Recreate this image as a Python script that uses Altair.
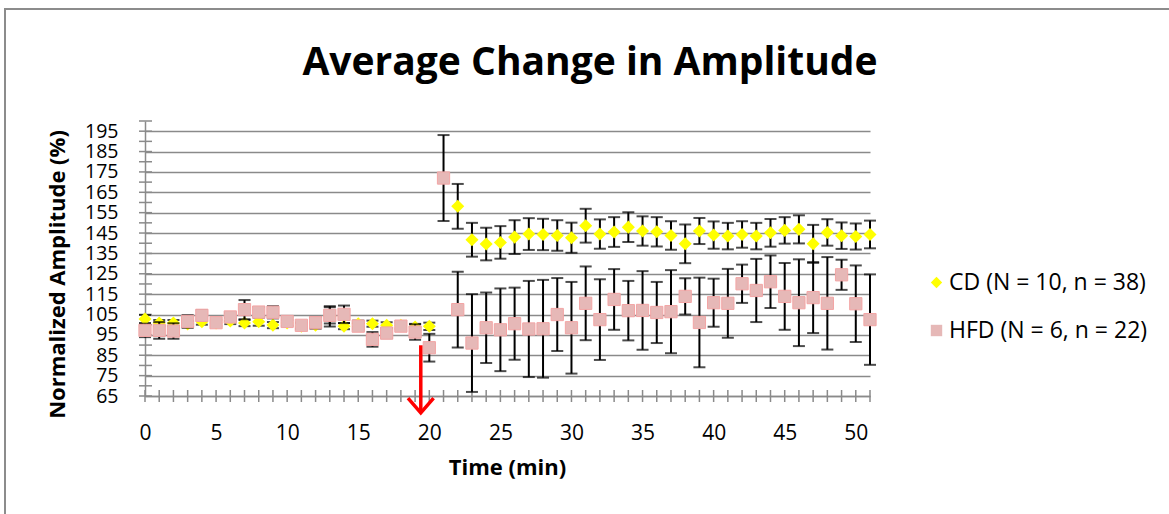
import altair as alt
import pandas as pd

# ---------------- data ----------------
time_min = list(range(52))

cd_label = "CD (N = 10, n = 38)"
hfd_label = "HFD (N = 6, n = 22)"

cd_mean = [102.8, 100.8, 100.8, 100.3, 101.5, 100.8, 101.8, 100.8, 101.5, 99.8,
           100.8, 99.2, 99.7, 104.1, 99.3, 100.5, 100.5, 99.7, 99.7, 98.9,
           99.2, None, 158.1, 141.7, 139.6, 140.4, 143.0, 144.5, 144.3, 143.8,
           142.7, 148.6, 144.5, 145.5, 147.9, 146.0, 145.6, 143.8, 139.7, 146.0,
           144.0, 143.5, 144.3, 143.5, 145.1, 146.3, 146.8, 139.7, 145.3, 143.7,
           143.3, 144.3]
cd_err = [2.0, 1.5, 1.5, 1.5, 1.5, 1.5, 1.5, 1.5, 2.0, 1.5,
          1.5, 1.5, 1.5, 5.0, 1.5, 1.5, 1.5, 1.5, 1.5, 1.5,
          1.8, None, 11.0, 8.3, 8.0, 8.0, 8.3, 7.8, 7.7, 7.5,
          7.4, 8.3, 7.2, 7.3, 7.3, 7.2, 7.2, 7.0, 9.5, 6.4,
          6.7, 6.5, 6.5, 6.5, 6.8, 6.5, 6.9, 9.3, 6.5, 6.5,
          6.4, 6.8]

hfd_mean = [97.2, 97.2, 96.9, 101.6, 104.6, 101.0, 103.8, 107.4, 106.2, 106.1,
            101.6, 99.7, 101.0, 104.6, 105.1, 99.3, 92.8, 95.9, 99.3, 96.4,
            88.7, 172.0, 107.4, 91.0, 98.5, 97.5, 100.5, 97.9, 98.0, 105.0,
            98.5, 110.5, 102.5, 112.4, 106.9, 107.0, 106.0, 106.4, 113.9, 101.1,
            110.8, 110.5, 120.1, 116.8, 121.1, 113.9, 110.8, 113.3, 110.5, 124.5,
            110.3, 102.5]
hfd_err = [3.3, 4.1, 3.8, 3.1, 2.5, 1.5, 2.0, 4.7, 2.5, 3.0,
           2.0, 1.5, 2.8, 4.0, 4.3, 1.5, 3.6, 2.5, 1.5, 3.8,
           6.8, 21.1, 18.6, 24.0, 17.3, 20.3, 17.7, 23.6, 24.0, 17.9,
           22.5, 18.1, 19.8, 14.9, 14.6, 19.3, 15.0, 20.4, 8.9, 22.0,
           11.8, 16.9, 9.4, 15.5, 12.9, 16.4, 21.3, 17.4, 22.7, 7.4,
           18.8, 22.2]

y_label_values = list(range(65, 200, 10))
y_tick_values = list(range(65, 201, 5))
x_label_values = list(range(0, 51, 5))
x_tick_values = list(range(0, 52))

# red arrow annotation (data units)
arrow_shaft_x = [19.4]
arrow_shaft_top = [89.9]
arrow_shaft_bottom = [57.5]
arrow_head_x = [18.5, 19.4, 20.3]
arrow_head_y = [64.0, 56.7, 64.0]

title_text = "Average Change in Amplitude"
x_title = "Time (min)"
y_title = "Normalized Amplitude (%)"

# ---------------- tables ----------------
def series_df(label, means, errs):
    rows = []
    for t, m, e in zip(time_min, means, errs):
        if m is None:
            continue
        rows.append({"series": label, "time": t, "mean": m, "lo": m - e, "hi": m + e})
    return pd.DataFrame(rows)

cd_df = series_df(cd_label, cd_mean, cd_err)
hfd_df = series_df(hfd_label, hfd_mean, hfd_err)

FONT = "Open Sans"
GRID = "#8a8a8a"
W, H = 725, 275

xs = alt.Scale(domain=[0, 51], nice=False, zero=False)
ys = alt.Scale(domain=[65, 200], nice=False, zero=False)

color_scale = alt.Scale(domain=[cd_label, hfd_label], range=["#FFFF00", "#E6B8B7"])
shape_scale = alt.Scale(domain=[cd_label, hfd_label], range=["diamond", "square"])
legend = alt.Legend(orient="none", legendX=780, legendY=150, title=None,
                    labelFont=FONT, labelFontSize=23, labelColor="black", labelLimit=0,
                    symbolSize=130, symbolStrokeWidth=0, rowPadding=24,
                    labelOffset=1, padding=0)

x_axis = alt.Axis(values=x_label_values, grid=False, ticks=False,
                  domainColor=GRID, domainWidth=1.5, labelFlush=False, labelOverlap=False,
                  labelFont=FONT, labelFontSize=21, labelColor="black", labelPadding=26,
                  title=x_title, titleFont=FONT, titleFontSize=22, titleFontWeight="bold",
                  titleColor="black", titleX=362, titleY=71, titleBaseline="middle",
                  titleAlign="center")
y_axis = alt.Axis(values=y_label_values, grid=True, gridColor=GRID, gridWidth=1.5,
                  ticks=False, domainColor=GRID, domainWidth=1.5,
                  labelFlush=False, labelOverlap=False,
                  labelFont=FONT, labelFontSize=19.5, labelColor="black", labelPadding=27,
                  title=y_title, titleFont=FONT, titleFontSize=22, titleFontWeight="bold",
                  titleColor="black", titleAngle=270, titleX=-88, titleY=153,
                  titleAlign="center", titleBaseline="middle")


def X(field):
    return alt.X(field, scale=xs, axis=x_axis)


def Y(field):
    return alt.Y(field, scale=ys, axis=y_axis)


one = pd.DataFrame({"t": [title_text]})

border = alt.Chart(one).mark_rect(filled=False, stroke="#8c8c8c", strokeWidth=2).encode(
    x=alt.value(-140), x2=alt.value(1040), y=alt.value(-112), y2=alt.value(420)
)

title = alt.Chart(one).mark_text(font=FONT, fontSize=39, fontWeight="bold",
                                 align="center", baseline="alphabetic", color="black").encode(
    text="t:N", x=alt.value(445), y=alt.value(-46)
)

ytick_df = pd.DataFrame({"v": y_tick_values})
xtick_df = pd.DataFrame({"v": x_tick_values})

yticks = alt.Chart(ytick_df).mark_rule(color=GRID, strokeWidth=1.5).encode(
    y=Y("v:Q"), x=alt.value(-6), x2=alt.value(7)
)
xticks = alt.Chart(xtick_df).mark_rule(color=GRID, strokeWidth=1.5).encode(
    x=X("v:Q"), y=alt.value(H - 6), y2=alt.value(H + 6)
)


def err_layers(df):
    base = alt.Chart(df)
    bar = base.mark_rule(color="black", strokeWidth=2).encode(
        x=X("time:Q"), y=Y("lo:Q"), y2="hi:Q")
    cap_hi = base.mark_tick(color="black", orient="horizontal", size=12, thickness=2).encode(
        x=X("time:Q"), y=Y("hi:Q"))
    cap_lo = base.mark_tick(color="black", orient="horizontal", size=12, thickness=2).encode(
        x=X("time:Q"), y=Y("lo:Q"))
    return [bar, cap_hi, cap_lo]


cd_pts = alt.Chart(cd_df).mark_point(filled=True, size=170, opacity=1).encode(
    x=X("time:Q"), y=Y("mean:Q"),
    color=alt.Color("series:N", scale=color_scale, legend=legend),
    shape=alt.Shape("series:N", scale=shape_scale, legend=legend),
)
hfd_pts = alt.Chart(hfd_df).mark_point(filled=True, size=150, opacity=1,
                                       stroke="#F3A5A5", strokeWidth=1).encode(
    x=X("time:Q"), y=Y("mean:Q"),
    color=alt.Color("series:N", scale=color_scale, legend=legend),
    shape=alt.Shape("series:N", scale=shape_scale, legend=legend),
)

shaft_df = pd.DataFrame({"x": arrow_shaft_x, "y": arrow_shaft_top, "y2": arrow_shaft_bottom})
head_df = pd.DataFrame({"x": arrow_head_x, "y": arrow_head_y, "o": [0, 1, 2]})
shaft = alt.Chart(shaft_df).mark_rule(color="#FF0000", strokeWidth=3.5).encode(
    x=X("x:Q"), y=Y("y:Q"), y2="y2:Q")
head = alt.Chart(head_df).mark_line(color="#FF0000", strokeWidth=3.5).encode(
    x=X("x:Q"), y=Y("y:Q"), order="o:Q")

chart = alt.layer(
    border, title, yticks, xticks,
    *err_layers(cd_df), cd_pts,
    *err_layers(hfd_df), hfd_pts,
    shaft, head,
).properties(
    width=W, height=H,
    autosize=alt.AutoSizeParams(type="none"),
    padding={"left": 145, "top": 121, "right": 299, "bottom": 118},
    background="white",
).configure_view(stroke=None)

chart.save("out.html", embed_options={"renderer": "svg", "actions": False})
